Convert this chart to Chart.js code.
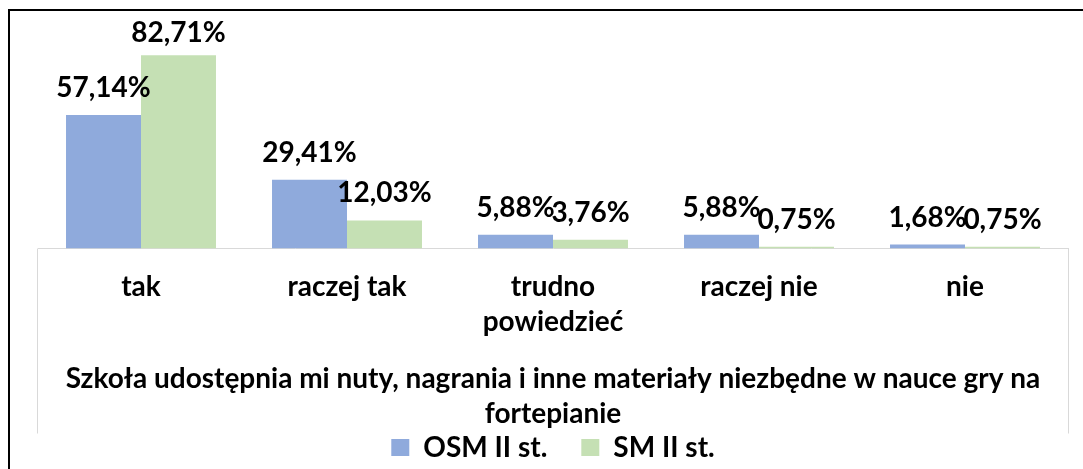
<!DOCTYPE html>
<html>
<head>
<meta charset="UTF-8">
<title>Szkoła udostępnia mi nuty, nagrania i inne materiały</title>
<script src="https://cdn.jsdelivr.net/npm/chart.js"></script>
<style>
    html, body { margin: 0; padding: 0; background: #fff; }
    #wrap { position: relative; width: 1083px; height: 469px; }
    #frame { position: absolute; left: 8px; top: 9px; right: 0; bottom: 0; border-left: 2px solid #000; border-top: 2px solid #000; }
    #chart { position: absolute; left: 0; top: 0; }
</style>
</head>
<body>
<div id="wrap">
    <div id="frame"></div>
    <canvas id="chart" width="1083" height="469"></canvas>
</div>

<script>
    // dane
    const categories = ['tak', 'raczej tak', ['trudno', 'powiedzieć'], 'raczej nie', 'nie'];
    const osmValues = [57.14, 29.41, 5.88, 5.88, 1.68];
    const smValues = [82.71, 12.03, 3.76, 0.75, 0.75];
    const seriesNames = ['OSM II st.', 'SM II st.'];
    const axisTitle = ['Szkoła udostępnia mi nuty, nagrania i inne materiały niezbędne w nauce gry na', 'fortepianie'];

    const FONT = 'Lato';
    const boldFont = { family: FONT, weight: 'bold', size: 28, lineHeight: 1.25 };

    function formatPct(v) {
        return v.toFixed(2).replace('.', ',') + '%';
    }

    // etykiety wartości nad słupkami
    const valueLabels = {
        id: 'valueLabels',
        afterDatasetsDraw(chart) {
            const ctx = chart.ctx;
            ctx.save();
            ctx.font = 'bold 28px ' + FONT;
            ctx.fillStyle = '#000';
            ctx.textAlign = 'center';
            ctx.textBaseline = 'alphabetic';
            chart.data.datasets.forEach((ds, i) => {
                chart.getDatasetMeta(i).data.forEach((bar, j) => {
                    const y = Math.max(bar.y - 18, chart.chartArea.top + 27);
                    ctx.fillText(formatPct(ds.data[j]), bar.x, y);
                });
            });
            ctx.restore();
        }
    };

    // szara ramka wokół obszaru osi X
    const axisBox = {
        id: 'axisBox',
        beforeDatasetsDraw(chart) {
            const { ctx, chartArea, legend } = chart;
            const bottom = legend.top + legend.options.labels.padding;
            ctx.save();
            ctx.strokeStyle = '#d9d9d9';
            ctx.lineWidth = 1;
            ctx.beginPath();
            ctx.moveTo(chartArea.left - 0.5, chartArea.bottom);
            ctx.lineTo(chartArea.left - 0.5, bottom);
            ctx.moveTo(chartArea.right + 0.5, chartArea.bottom);
            ctx.lineTo(chartArea.right + 0.5, bottom);
            ctx.stroke();
            ctx.restore();
        }
    };

    const ctx = document.getElementById('chart').getContext('2d');
    new Chart(ctx, {
        type: 'bar',
        data: {
            labels: categories,
            datasets: [{
                label: seriesNames[0],
                data: osmValues,
                backgroundColor: '#8faadc',
                borderWidth: 0
            }, {
                label: seriesNames[1],
                data: smValues,
                backgroundColor: '#c5e0b4',
                borderWidth: 0
            }]
        },
        options: {
            responsive: false,
            animation: false,
            categoryPercentage: 0.728,
            barPercentage: 1,
            layout: { padding: { top: 15, left: 38, right: 15, bottom: -2.5 } },
            plugins: {
                tooltip: { enabled: false },
                legend: {
                    position: 'bottom',
                    labels: {
                        color: '#000',
                        font: boldFont,
                        boxWidth: 18,
                        boxHeight: 17,
                        padding: 34
                    }
                }
            },
            scales: {
                y: { display: false, min: 0, max: 100 },
                x: {
                    grid: { display: false, drawTicks: false },
                    border: { display: true, color: '#d9d9d9', width: 1 },
                    ticks: {
                        color: '#000',
                        font: boldFont,
                        padding: 21,
                        autoSkip: false,
                        maxRotation: 0
                    },
                    title: {
                        display: true,
                        text: axisTitle,
                        color: '#000',
                        font: boldFont,
                        padding: { top: 1, bottom: -32 }
                    }
                }
            }
        },
        plugins: [valueLabels, axisBox]
    });
</script>
</body>
</html>
